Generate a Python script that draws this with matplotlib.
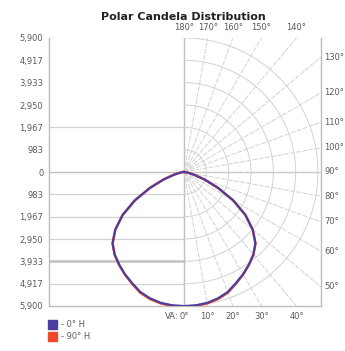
import numpy as np
import matplotlib
matplotlib.use("Agg")
import matplotlib.pyplot as plt

# ---- data ----
title = "Polar Candela Distribution"
angles = [0, 5, 10, 15, 20, 25, 30, 35, 40, 45, 50, 55, 60, 65, 70, 75, 80, 85, 90]
cd_0H = [5900, 5890, 5850, 5760, 5620, 5400, 5200, 4980, 4750, 4450, 3950, 3300, 2500, 1650, 950, 450, 180, 60, 0]
cd_90H = [5930, 5915, 5875, 5790, 5650, 5420, 5210, 4985, 4750, 4450, 3950, 3300, 2500, 1650, 950, 450, 180, 60, 0]
series_names = ["- 0\u00b0 H", "- 90\u00b0 H"]
y_ticks = [5900, 4917, 3933, 2950, 1967, 983, 0, -983, -1967, -2950, -3933, -4917, -5900]
y_tick_labels = ["5,900", "4,917", "3,933", "2,950", "1,967", "983", "0", "983", "1,967", "2,950", "3,933", "4,917", "5,900"]
top_angles = [180, 170, 160, 150, 140]
right_angles = [130, 120, 110, 100, 90, 80, 70, 60, 50]
bottom_angles = [0, 10, 20, 30, 40]

c0 = "#4a3da0"
c90 = "#ee4a2a"
grid_c = "#d2d2d2"
txt_c = "#5a5a5a"

fig = plt.figure(figsize=(3.45, 3.51), dpi=100)
ax = fig.add_axes([49/345, 1-306/351, 272/345, 268/351])
xmin, xmax = -5945, 6032
ymin, ymax = -5900, 5900
ax.set_xlim(xmin, xmax)
ax.set_ylim(ymin, ymax)

# spines
ax.spines["top"].set_visible(False)
for s in ["left", "bottom", "right"]:
    ax.spines[s].set_color("#bdbdbd")
    ax.spines[s].set_linewidth(1.0)
ax.set_xticks([])
ax.set_yticks(y_ticks)
ax.set_yticklabels(y_tick_labels, fontsize=6, color=txt_c)
ax.tick_params(axis="y", length=0, pad=4)

# horizontal grid lines (left half)
for yv in y_ticks:
    if yv < 0 and yv > ymin:
        lw = 1.8 if yv == -3933 else 0.9
        col = "#c0c0c0" if yv == -3933 else grid_c
        ax.plot([xmin, 0], [yv, yv], color=col, lw=lw, zorder=1)
ax.plot([xmin, 0], [1967, 1967], color=grid_c, lw=0.9, zorder=1)
ax.plot([xmin, xmax], [0, 0], color="#c0c0c0", lw=1.0, zorder=1)
ax.plot([0, 0], [ymin, ymax], color="#c0c0c0", lw=1.0, zorder=1)

# polar grid on right half
R = 20000
for a in range(10, 180, 10):
    t = np.radians(a)
    ax.plot([0, R*np.sin(t)], [0, -R*np.cos(t)], color=grid_c, lw=0.7,
            dashes=(5, 1.5), zorder=1)
tt = np.radians(np.linspace(0, 180, 200))
for k in range(1, 7):
    r = 5900*k/6
    ax.plot(r*np.sin(tt), -r*np.cos(tt), color=grid_c, lw=0.7, zorder=1)

# curves (mirrored on both sides)
def curve(vals):
    a = np.radians(np.array(angles, dtype=float))
    v = np.array(vals, dtype=float)
    full_a = np.concatenate([-a[::-1], a[1:]])
    full_v = np.concatenate([v[::-1], v[1:]])
    return full_v*np.sin(full_a), -full_v*np.cos(full_a)

x90, y90 = curve(cd_90H)
x0, y0 = curve(cd_0H)
ax.plot(x90, y90, color=c90, lw=1.8, zorder=3)
ax.plot(x0, y0, color=c0, lw=1.5, zorder=4)

# angle labels
for a in top_angles:
    t = np.radians(a)
    xv = -ymax*np.tan(t)
    ax.text(xv, ymax + 250, f"{a}\u00b0", ha="center", va="bottom", fontsize=6, color=txt_c, clip_on=False)
for a in right_angles:
    t = np.radians(a)
    yv = -xmax*np.cos(t)/np.sin(t)
    ax.text(xmax + 150, yv, f"{a}\u00b0", ha="left", va="center", fontsize=6, color=txt_c, clip_on=False)
for a in bottom_angles:
    t = np.radians(a)
    xv = -ymin*np.tan(t)
    ax.text(xv, ymin - 250, f"{a}\u00b0", ha="center", va="top", fontsize=6, color=txt_c, clip_on=False)
ax.text(-250, ymin - 250, "VA:", ha="right", va="top", fontsize=6, color=txt_c, clip_on=False)

fig.text(183/345, 1-17/351, title, ha="center", va="center", fontsize=8, fontweight="bold", color="#222222")

# legend
for i, (name, col) in enumerate(zip(series_names, [c0, c90])):
    yc = 324.5 + i*12
    fig.patches.append(plt.Rectangle((48/345, 1-(yc+4.5)/351), 9/345, 9/351,
                                     transform=fig.transFigure, color=col, figure=fig))
    fig.text(61/345, 1-yc/351, name, ha="left", va="center", fontsize=6, color=txt_c)

fig.savefig("out.png", dpi=100)
